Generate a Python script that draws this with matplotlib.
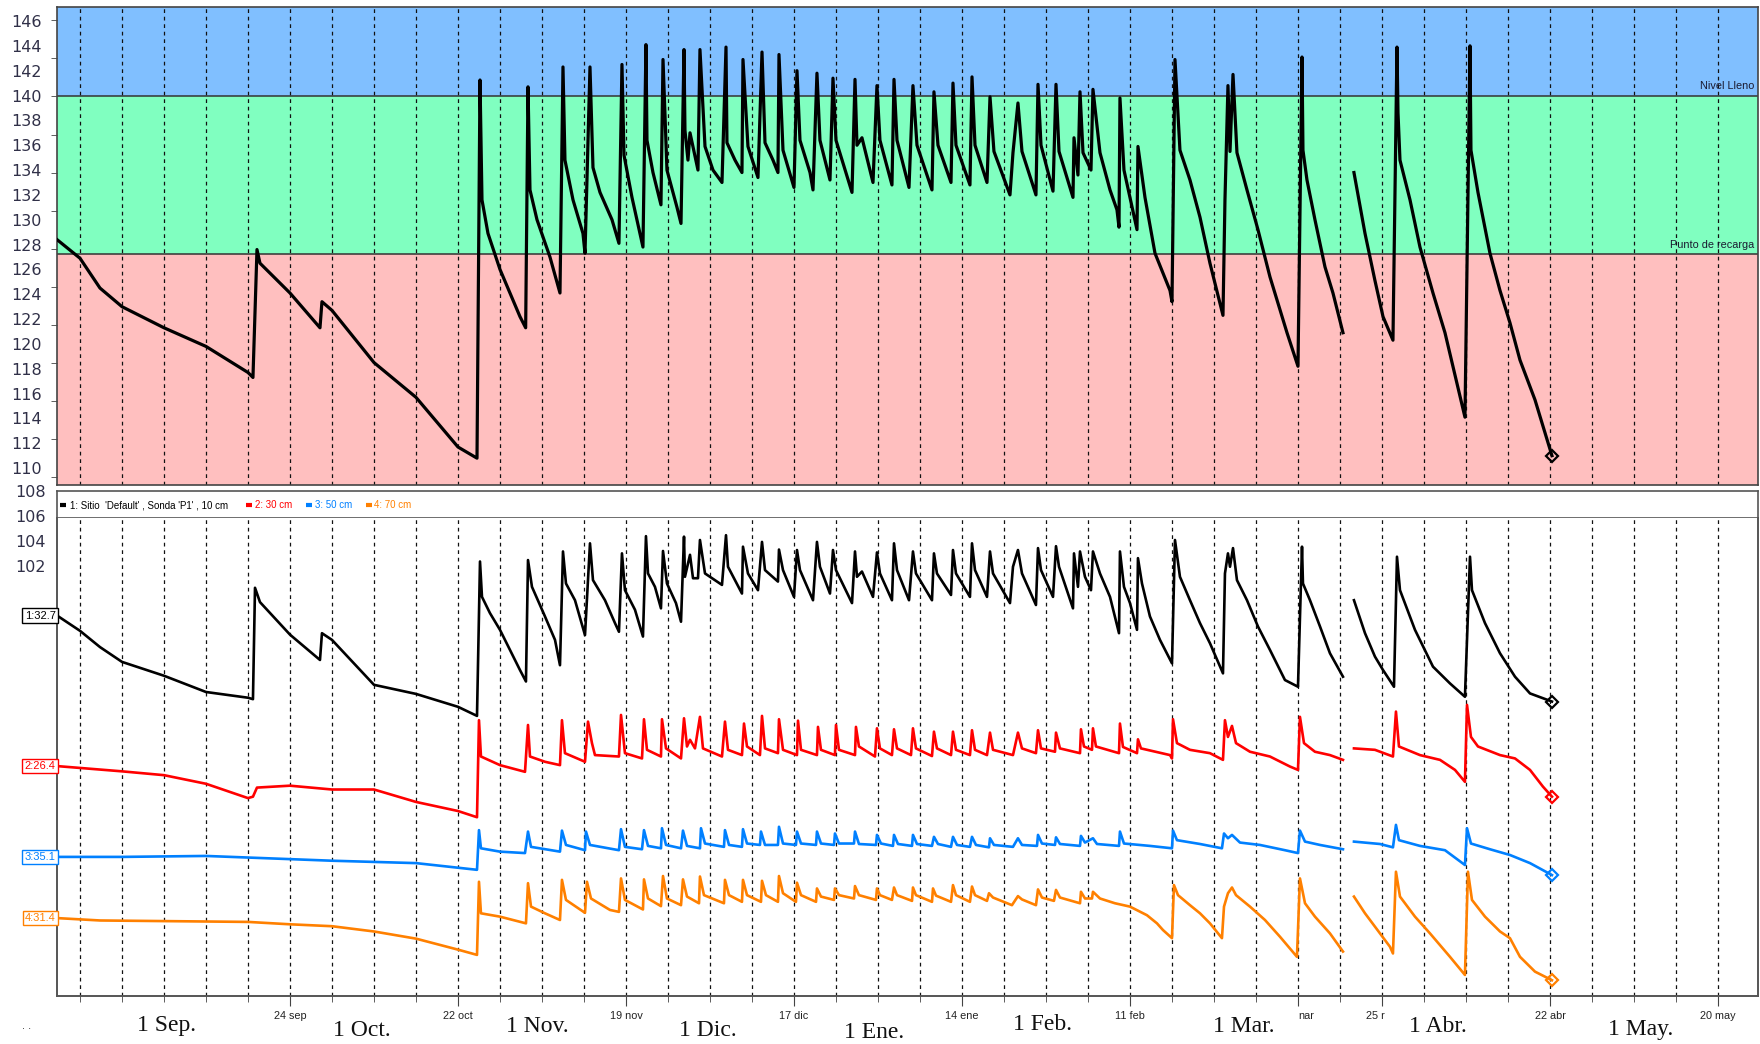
import numpy as np
import matplotlib
matplotlib.use("Agg")
import matplotlib.pyplot as plt
from matplotlib.transforms import blended_transform_factory as btf

nan = np.nan
# x values: days counted from 1 August; upper values on the edited scale of the picture
up_t = [15.17, 19.0, 22.33, 26.0, 33.0, 40.0, 47.0, 47.83, 48.5, 49.0, 54.0, 59.0, 59.33, 61.0, 68.0, 75.0, 82.0, 85.17,
        85.67, 86.0, 87.0, 89.0, 92.33, 93.28, 93.67, 94.0, 95.17, 97.33, 99.0, 99.5, 99.83, 101.17, 102.83, 103.17,
        104.0, 104.5, 105.67, 107.67, 108.83, 109.33, 109.67, 111.0, 112.83, 113.33, 113.5, 114.5, 115.83, 116.17,
        116.83, 118.5, 119.17, 119.67, 119.83, 120.33, 120.67, 122.0, 122.33, 123.17, 124.5, 126.0, 126.67, 126.83,
        128.17, 129.33, 129.5, 130.33, 132.0, 132.67, 133.17, 134.5, 135.33, 135.5, 136.17, 138.0, 138.5, 139.0,
        140.67, 141.17, 141.83, 142.33, 144.0, 144.5, 145.0, 147.67, 148.17, 148.5, 149.33, 151.17, 151.83, 152.33,
        154.33, 154.67, 155.17, 157.17, 157.83, 158.5, 161.0, 161.33, 162.0, 164.17, 164.5, 165.0, 167.33, 167.67,
        168.17, 170.17, 170.67, 171.33, 174.0, 174.5, 175.33, 176.0, 178.33, 178.67, 179.17, 181.17, 181.67, 182.17,
        184.5, 184.67, 185.33, 185.67, 186.17, 187.5, 187.83, 189.0, 190.67, 191.83, 192.17, 192.33, 193.0, 195.17,
        195.33, 196.5, 198.17, 200.67, 201.0, 201.5, 202.33, 204.0, 205.67, 207.33, 209.5, 209.83, 210.33, 210.67,
        211.17, 211.83, 213.5, 215.33, 217.33, 220.17, 222.0, 222.67, 222.83, 223.5, 224.83, 226.5, 227.83, 229.5,
        nan, 231.33, 233.17, 234.83, 236.17, 237.83, 238.5, 238.67, 239.0, 240.67, 242.33, 244.5, 246.5, 249.83,
        250.67, 250.83, 252.0, 254.0, 255.67, 257.33, 259.0, 261.5, 264.33]
up_v = [128.4, 126.9, 124.5, 123.0, 121.3, 119.8, 117.7, 117.3, 127.6, 126.5, 124.1, 121.3, 123.4, 122.7, 118.5, 115.7, 111.7, 110.8,
        141.25, 131.6, 128.9, 126.0, 122.2, 121.3, 140.7, 132.4, 130.0, 127.0, 124.1, 142.3, 134.8, 131.6, 128.9, 127.3,
        142.3, 134.2, 132.2, 130.0, 128.1, 142.5, 135.2, 131.8, 127.8, 144.1, 136.4, 133.8, 131.2, 142.9,
        134.0, 131.0, 129.7, 143.7, 137.2, 134.8, 137.0, 134.0, 143.7, 135.9, 134.0, 133.0, 143.9, 136.2,
        134.8, 133.8, 142.9, 135.9, 133.4, 143.5, 136.2, 134.8, 133.8, 143.3, 135.6, 132.6, 142.0, 136.4,
        133.8, 132.4, 141.8, 136.4, 133.2, 141.4, 136.4, 132.2, 141.3, 136.0, 136.6, 133.0, 140.8, 136.4,
        132.8, 141.3, 136.4, 132.6, 140.8, 136.0, 132.4, 140.3, 136.0, 133.0, 141.0, 136.0, 132.8, 141.5,
        136.0, 133.0, 139.9, 135.5, 132.0, 135.4, 139.4, 135.5, 132.0, 140.9, 136.0, 132.3, 140.9, 135.5,
        131.8, 136.6, 133.6, 140.3, 135.4, 134.0, 140.5, 135.4, 132.4, 130.8, 129.4, 139.8, 134.0, 129.2,
        135.9, 131.8, 127.3, 124.3, 123.4, 142.9, 135.6, 133.2, 130.2, 126.5, 122.3, 131.6, 140.8, 135.5,
        141.7, 135.4, 132.4, 129.2, 125.4, 120.9, 118.2, 143.1, 135.6, 133.2, 130.0, 126.2, 124.1, 120.9,
        nan, 133.8, 128.9, 125.1, 122.2, 120.3, 143.9, 138.6, 134.8, 131.6, 127.8, 124.1, 120.9, 114.1,
        144.0, 135.6, 132.2, 127.3, 124.3, 121.7, 118.7, 115.5, 111.0]

# lower panel: four probes (relative vertical position, 0-100 of the strip)
p1_t = [15.17, 19.0, 22.33, 26.0, 33.0, 40.0, 47.0, 47.83, 48.17, 49.0, 54.0, 59.0, 59.33, 61.0, 68.0, 75.0, 82.0, 85.17,
        85.67, 86.0, 87.33, 89.0, 92.33, 93.33, 93.67, 94.33, 96.5, 98.17, 99.0, 99.5, 100.0, 101.5, 103.17, 104.0,
        104.5, 106.5, 108.17, 108.83, 109.33, 109.83, 111.5, 112.83, 113.33, 113.67, 114.83, 115.83, 116.17, 116.83,
        118.33, 119.17, 119.67, 119.83, 120.67, 121.17, 122.0, 122.33, 123.17, 124.83, 126.0, 126.67, 127.0, 129.33,
        129.5, 130.33, 132.0, 132.67, 133.17, 135.33, 135.5, 136.17, 138.0, 138.5, 139.0, 141.17, 141.83, 142.33,
        144.0, 144.5, 145.0, 147.67, 148.17, 148.5, 149.33, 151.17, 151.83, 152.33, 154.33, 154.67, 155.17, 157.17,
        157.83, 158.33, 161.0, 161.33, 161.83, 164.17, 164.5, 165.0, 167.33, 167.67, 168.17, 170.17, 170.67, 171.17,
        174.0, 174.5, 175.33, 176.0, 178.33, 178.67, 179.17, 181.17, 181.67, 182.17, 184.5, 184.67, 185.33, 185.67,
        186.5, 187.5, 187.83, 189.0, 190.67, 192.17, 192.33, 193.0, 194.0, 195.17, 195.33, 196.0, 197.33, 199.0,
        201.0, 201.5, 202.33, 204.0, 205.67, 207.33, 209.5, 209.83, 210.33, 210.67, 211.17, 211.83, 213.5, 215.33,
        217.33, 219.83, 222.0, 222.67, 222.83, 224.0, 225.67, 227.33, 229.5, nan, 231.33, 233.17, 234.83, 236.17,
        238.0, 238.5, 239.0, 241.5, 244.5, 247.33, 249.83, 250.67, 251.0, 253.17, 255.67, 258.17, 260.67, 264.33]
p1_v = [79.6, 76.4, 73.0, 69.9, 67.0, 63.6, 62.4, 62.1, 85.4, 82.4, 75.6, 70.3, 75.9, 74.5, 65.1, 63.2, 60.5, 58.6,
        90.9, 83.5, 80.1, 76.6, 68.2, 65.8, 91.2, 85.6, 79.4, 74.5, 69.2, 93.0, 86.3, 82.8, 75.5, 94.7,
        87.0, 82.8, 78.0, 76.2, 92.6, 84.9, 80.8, 75.2, 96.2, 88.4, 85.6, 81.1, 93.1, 86.3,
        82.2, 78.3, 96.1, 87.7, 92.3, 87.4, 87.4, 95.4, 88.4, 87.0, 86.0, 96.4, 89.8, 84.2,
        94.0, 88.4, 84.9, 95.0, 89.1, 86.7, 93.4, 89.1, 83.5, 93.3, 89.1, 82.8, 95.0, 89.8,
        84.2, 93.3, 89.1, 82.2, 93.0, 87.7, 88.8, 83.5, 92.8, 88.4, 82.8, 94.7, 89.1, 82.8,
        93.0, 88.4, 82.8, 92.6, 88.4, 83.9, 93.3, 88.4, 83.5, 94.7, 89.1, 83.5, 93.0, 88.4,
        82.2, 89.8, 93.3, 88.4, 81.8, 93.7, 89.1, 83.5, 94.1, 89.8, 81.1, 92.6, 85.6, 93.0,
        87.7, 84.9, 93.0, 88.4, 83.5, 75.9, 93.0, 85.6, 82.2, 76.6, 91.6, 86.3, 79.4, 74.5,
        69.6, 95.4, 87.7, 82.8, 78.0, 73.8, 67.5, 88.4, 92.6, 89.8, 93.7, 87.0, 82.8, 77.3,
        72.4, 66.1, 64.7, 94.0, 86.3, 82.8, 77.3, 71.7, 66.8, nan, 82.8, 75.9, 71.0, 68.2,
        64.7, 91.9, 84.9, 76.6, 68.9, 65.4, 62.6, 91.9, 84.9, 78.0, 71.7, 66.8, 63.3, 61.6]

p2_t = [15.17, 26.0, 33.0, 40.0, 47.0, 47.83, 48.5, 54.0, 61.0, 68.0, 75.0, 82.0, 85.17,
        85.5, 85.83, 89.0, 93.17, 93.67, 94.0, 96.5, 99.0, 99.33, 99.83, 103.17, 103.67, 104.33, 104.83, 108.83,
        109.17, 109.83, 112.67, 113.0, 113.5, 115.83, 116.0, 116.67, 119.17, 119.67, 120.17, 120.67, 121.5, 122.33,
        122.83, 126.0, 126.5, 127.0, 129.33, 129.67, 130.17, 132.33, 132.67, 133.17, 135.33, 135.5, 136.17, 138.5,
        138.67, 139.17, 141.83, 142.0, 142.5, 144.83, 145.0, 145.5, 148.17, 148.33, 148.83, 151.5, 151.83, 152.33,
        154.33, 154.67, 155.17, 157.5, 157.83, 158.33, 161.0, 161.33, 161.83, 164.17, 164.5, 165.0, 167.33, 167.67,
        168.17, 170.17, 170.67, 171.17, 174.5, 175.33, 176.0, 178.33, 178.67, 179.17, 181.5, 181.67, 182.33, 185.67,
        185.83, 186.33, 187.67, 187.83, 188.33, 192.17, 192.33, 192.83, 195.17, 195.33, 195.83, 200.67, 201.0, 201.17,
        201.83, 204.0, 207.33, 209.5, 209.83, 210.33, 211.0, 211.67, 214.0, 217.33, 220.67, 222.0, 222.33, 223.0,
        224.83, 227.33, 229.5, nan, 231.33, 234.83, 237.83, 238.33, 238.83, 242.33, 245.67, 248.17, 249.83, 250.17,
        250.83, 252.0, 255.67, 258.17, 260.67, 262.83, 264.33]
p2_v = [48.1, 47.0, 46.2, 44.4, 41.4, 41.7, 43.6, 44.0, 43.2, 43.2, 40.6, 38.7, 37.4,
        57.7, 50.1, 48.3, 46.9, 56.7, 50.1, 49.0, 48.3, 57.7, 50.8, 49.0, 57.4, 52.9, 50.4, 50.1,
        58.8, 50.8, 49.7, 57.9, 51.5, 50.1, 57.9, 51.8, 49.7, 58.1, 52.2, 53.6, 51.8, 58.4,
        51.8, 50.1, 57.4, 51.5, 50.4, 57.0, 52.2, 50.4, 58.6, 51.8, 50.8, 57.9, 51.5, 50.4,
        57.6, 51.5, 50.4, 56.3, 51.5, 50.4, 56.7, 51.5, 50.4, 56.3, 52.2, 50.1, 56.0, 51.8,
        50.4, 55.8, 51.8, 50.4, 56.0, 51.8, 50.2, 55.3, 51.8, 50.4, 55.3, 51.5, 50.4, 55.6,
        51.5, 50.4, 55.1, 51.5, 50.4, 55.1, 51.8, 50.8, 55.6, 51.8, 51.1, 55.1, 51.8, 50.8,
        55.8, 52.2, 51.5, 56.0, 52.2, 50.8, 57.0, 52.1, 50.8, 53.7, 51.8, 50.4, 49.7, 57.9,
        52.9, 51.5, 50.8, 49.4, 57.7, 54.2, 56.5, 52.9, 51.1, 50.1, 48.0, 47.3, 58.4, 52.9,
        51.1, 50.4, 49.4, nan, 51.8, 51.5, 50.1, 59.5, 52.2, 50.4, 49.4, 47.3, 44.8, 60.9,
        54.2, 52.2, 50.4, 49.7, 47.3, 43.8, 41.7]

p3_t = [15.17, 26.0, 40.0, 61.0, 75.0, 85.17,
        85.5, 85.83, 89.0, 93.17, 93.67, 94.17, 99.0, 99.33, 100.0, 103.17, 103.33, 104.0, 108.83, 109.17, 109.83,
        112.67, 113.0, 113.67, 115.83, 116.0, 116.67, 119.17, 119.5, 120.17, 122.33, 122.5, 123.17, 126.33, 126.5,
        127.17, 129.33, 129.5, 130.17, 132.33, 132.5, 133.17, 135.33, 135.5, 136.17, 138.33, 138.5, 139.17, 141.67,
        141.83, 142.5, 144.67, 144.83, 145.5, 148.0, 148.17, 148.83, 151.67, 151.83, 152.5, 154.5, 154.67, 155.33,
        157.67, 157.83, 158.5, 161.0, 161.33, 162.0, 164.17, 164.5, 165.17, 167.33, 167.67, 168.33, 170.5, 170.67,
        171.33, 174.5, 175.33, 176.0, 178.5, 178.67, 179.33, 181.5, 181.67, 182.33, 185.67, 185.83, 186.5, 187.83,
        188.5, 192.17, 192.33, 193.0, 197.33, 201.0, 201.17, 201.83, 205.67, 209.33, 209.67, 210.33, 211.0, 212.33,
        215.67, 219.83, 222.0, 222.33, 223.17, 225.67, 229.5, nan, 231.33, 235.67, 237.83, 238.33, 238.83, 242.33,
        246.5, 249.83, 250.17, 250.83, 254.0, 257.33, 260.67, 264.33]
p3_v = [29.1, 29.1, 29.3, 28.3, 27.8, 26.4,
        34.7, 30.9, 30.2, 29.9, 34.4, 31.2, 30.2, 34.6, 31.6, 30.5, 34.4, 31.6, 30.5, 34.9, 31.2,
        30.7, 34.7, 31.4, 30.9, 35.1, 31.6, 30.9, 34.6, 31.4, 30.9, 35.1, 31.9, 31.2, 34.7,
        31.6, 31.2, 34.9, 31.9, 31.6, 34.4, 31.6, 31.6, 35.4, 31.9, 31.6, 34.4, 31.9, 31.6,
        34.4, 31.9, 31.6, 34.0, 31.9, 31.9, 34.4, 31.8, 31.6, 33.7, 31.9, 31.4, 33.7, 31.8,
        31.4, 33.7, 31.8, 31.4, 33.3, 31.8, 31.2, 33.3, 31.6, 31.2, 33.3, 31.6, 31.1, 33.0,
        31.6, 31.2, 33.0, 31.6, 31.4, 33.7, 31.9, 31.6, 33.2, 31.8, 31.4, 33.5, 32.1, 33.0,
        31.8, 31.4, 34.4, 31.9, 31.4, 30.9, 34.6, 32.6, 31.8, 30.9, 34.0, 33.0, 33.7, 32.1,
        31.6, 30.5, 29.9, 34.6, 32.3, 31.6, 30.7, nan, 32.3, 31.8, 31.1, 35.8, 32.6, 31.4,
        30.5, 27.4, 35.1, 31.9, 30.7, 29.5, 27.8, 25.3]

p4_t = [15.17, 22.33, 47.0, 54.0, 61.0, 68.0, 75.0, 82.0, 85.17,
        85.5, 85.83, 89.0, 93.33, 93.67, 94.17, 96.5, 99.0, 99.33, 100.0, 103.17, 103.5, 104.17, 107.33, 108.83,
        109.17, 109.83, 112.83, 113.0, 113.67, 115.83, 116.17, 116.83, 119.17, 119.5, 120.17, 122.17, 122.33, 123.0,
        126.33, 126.5, 127.17, 129.33, 129.5, 130.17, 132.5, 132.67, 133.33, 135.33, 135.5, 136.17, 138.33, 138.5,
        139.17, 141.67, 141.83, 142.5, 144.67, 144.83, 145.5, 148.0, 148.17, 148.83, 151.67, 151.83, 152.33, 154.33,
        154.67, 155.17, 157.67, 157.83, 158.33, 161.0, 161.17, 161.67, 164.17, 164.5, 165.0, 167.33, 167.67, 168.17,
        170.17, 170.5, 171.17, 174.33, 175.33, 176.0, 178.33, 178.67, 179.33, 181.33, 181.67, 182.33, 185.67, 185.83,
        186.5, 187.67, 187.83, 189.0, 191.5, 194.0, 196.83, 198.5, 199.5, 201.0, 201.33, 202.0, 204.0, 205.67,
        207.33, 209.33, 209.67, 210.33, 211.0, 211.67, 214.0, 216.5, 219.0, 221.83, 222.33, 223.17, 224.83, 227.33,
        229.5, nan, 231.33, 233.17, 235.67, 237.33, 237.83, 238.33, 239.0, 241.5, 244.0, 247.33, 249.83, 250.33,
        251.0, 253.17, 255.67, 257.33, 259.0, 261.5, 264.33]
p4_v = [16.3, 15.8, 15.5, 15.0, 14.6, 13.5, 12.0, 9.7, 8.6,
        23.9, 17.3, 16.6, 15.2, 23.6, 18.7, 17.3, 15.9, 24.3, 20.1, 17.4, 23.9, 20.4, 18.0, 17.6,
        24.6, 20.1, 18.1, 24.4, 20.4, 18.8, 25.1, 20.4, 19.0, 24.4, 20.8, 19.4, 25.0, 21.1,
        19.4, 24.3, 21.1, 19.7, 24.3, 21.1, 19.7, 24.1, 21.1, 19.7, 25.1, 21.5, 19.7, 23.7,
        21.1, 19.7, 22.5, 20.8, 20.1, 22.5, 21.1, 20.4, 23.0, 21.1, 20.1, 22.5, 21.1, 20.1,
        22.7, 21.1, 19.9, 22.7, 21.1, 19.7, 22.5, 21.0, 19.7, 23.2, 21.1, 19.7, 22.9, 21.1,
        19.9, 21.5, 20.6, 19.0, 20.9, 20.2, 19.0, 22.3, 20.6, 19.9, 22.2, 20.6, 19.4, 21.8,
        20.4, 20.4, 21.8, 20.4, 19.4, 18.7, 16.9, 15.2, 13.8, 12.1, 23.2, 21.1, 19.0, 17.3,
        15.2, 12.1, 18.7, 21.5, 22.7, 21.1, 18.7, 15.9, 12.4, 8.2, 24.6, 19.4, 16.6, 13.1,
        9.3, nan, 20.8, 17.3, 13.1, 10.3, 8.9, 26.0, 20.8, 16.6, 13.1, 8.2, 4.4, 26.0,
        20.1, 16.6, 13.5, 12.1, 8.2, 5.1, 3.3]

nivel_lleno = 140.0
punto_recarga = 127.24
y_labels = list(range(110, 147, 2))
y_labels_extra = [108, 106, 104, 102]
y_marks = [146.08, 143.02, 139.96, 136.82, 133.76, 130.70, 127.64, 124.58, 121.52, 118.46, 115.40, 112.34, 109.29]
weeks = list(range(19, 293, 7))
date_ticks = [54, 82, 110, 138, 166, 194, 222, 236, 264, 292]
date_labels = ["24 sep", "22 oct", "19 nov", "17 dic", "14 ene", "11 feb", "", "", "22 abr", "20 may"]
cut_labels = [(222, "nar", 0.0), (236, "25 r", -2.67)]
month_names = ["1 Sep.", "1 Oct.", "1 Nov.", "1 Dic.", "1 Ene.", "1 Feb.", "1 Mar.", "1 Abr.", "1 May."]
month_pos = [(166, 1026), (362, 1030), (537, 1026), (708, 1030), (874, 1033), (1042, 1025), (1244, 1026), (1438, 1027), (1641, 1029)]
legend_names = ["1: Sitio  'Default' , Sonda 'P1' , 10 cm", "2: 30 cm", "3: 50 cm", "4: 70 cm"]
start_labels = ["1:32.7", "2:26.4", "3:35.1", "4:31.4"]
colors = ["#000000", "#ff0000", "#0080ff", "#ff8000"]

W, H = 1760, 1044
fig = plt.figure(figsize=(W / 100, H / 100), dpi=100)
fig.patch.set_facecolor("white")


def box(l, t, r, b):
    return [l / W, 1 - b / H, (r - l) / W, (b - t) / H]


SANS = ["Liberation Sans", "DejaVu Sans"]
XMIN, XMAX = 15.17, 298.67

# ---------------- upper panel ----------------
ax1 = fig.add_axes(box(57, 7, 1758, 485))
ax1.set_xlim(XMIN, XMAX)
ax1.set_ylim(108.64, 147.13)
ax1.axhspan(nivel_lleno, 150, color="#80bfff", zorder=0, lw=0)
ax1.axhspan(punto_recarga, nivel_lleno, color="#80ffc0", zorder=0, lw=0)
ax1.axhspan(100, punto_recarga, color="#ffbfbf", zorder=0, lw=0)
for w in weeks:
    ax1.axvline(w, color="#111111", lw=0.9, ls=(0, (3, 3)), zorder=1)
ax1.axhline(nivel_lleno, color="#333333", lw=1.1, zorder=1.5)
ax1.axhline(punto_recarga, color="#333333", lw=1.1, zorder=1.5)
ax1.plot(up_t, up_v, color="black", lw=2.3, zorder=3)
ax1.plot(up_t[-1], up_v[-1], marker="D", ms=6.5, mfc="none", mec="black", mew=1.6, zorder=4)
tr = btf(ax1.transAxes, ax1.transData)
ax1.text(0.998, nivel_lleno + 0.35, "Nivel Lleno", transform=tr, ha="right", va="bottom",
         fontsize=7.8, family=SANS, color="#1a1a30")
ax1.text(0.998, punto_recarga + 0.35, "Punto de recarga", transform=tr, ha="right", va="bottom",
         fontsize=7.8, family=SANS, color="#1a1a30")
ax1.set_xticks([])
ax1.set_yticks(y_labels)
ax1.set_yticklabels([str(v) for v in y_labels])
ax1.set_yticks(y_marks, minor=True)
ax1.tick_params(axis="y", which="major", length=0, pad=11, labelsize=11.5, labelcolor="#303048")
ax1.tick_params(axis="y", which="minor", length=4, direction="out", color="#444444")
for v in y_labels_extra:
    ax1.text(-11 / 1701, v, str(v), transform=tr, ha="right", va="center", fontsize=11.5,
             color="#303048", clip_on=False)
for s in ax1.spines.values():
    s.set_color("#444444")
    s.set_linewidth(1.2)

# ---------------- legend strip ----------------
lg = fig.add_axes(box(57, 491, 1758, 518))
lg.set_xlim(57, 1758)
lg.set_ylim(0, 1)
lg.set_xticks([])
lg.set_yticks([])
for s in lg.spines.values():
    s.set_color("#555555")
    s.set_linewidth(1.2)
legend_x = [(60, 70), (246, 255), (306, 315), (366, 374)]
for (dx, tx), name, c in zip(legend_x, legend_names, colors):
    lg.plot([dx, dx + 6], [0.5, 0.5], color=c, lw=3, solid_capstyle="butt")
    lg.text(tx, 0.47, name, color=c, fontsize=7.0, family=SANS, va="center", ha="left")

# ---------------- lower panel ----------------
ax2 = fig.add_axes(box(57, 518, 1758, 996))
ax2.set_xlim(XMIN, XMAX)
ax2.set_ylim(0, 100)
for w in weeks:
    ax2.axvline(w, color="#111111", lw=0.9, ls=(0, (3, 3)), zorder=1)
series = [(p1_t, p1_v), (p2_t, p2_v), (p3_t, p3_v), (p4_t, p4_v)]
trl = btf(fig.transFigure, ax2.transData)
for (t, v), c, lab in zip(series, colors, start_labels):
    ax2.plot(t, v, color=c, lw=1.9, zorder=3)
    ax2.plot(t[-1], v[-1], marker="D", ms=6.5, mfc="none", mec=c, mew=1.6, zorder=4)
    fig.text(55.5 / W, v[0], lab, transform=trl, ha="right", va="center", fontsize=8.0,
             family=SANS, color=c,
             bbox=dict(boxstyle="square,pad=0.2", fc="white", ec=c, lw=1.0))
ax2.set_yticks([])
ax2.set_xticks(date_ticks)
ax2.set_xticklabels(date_labels)
ax2.set_xticks(weeks, minor=True)
ax2.tick_params(axis="x", which="major", length=7, pad=4, labelsize=7.8, labelcolor="#222222",
                color="#444444", direction="out")
ax2.tick_params(axis="x", which="minor", length=4, color="#444444", direction="out")
for lab in ax2.get_xticklabels():
    lab.set_family(SANS)
for s in ax2.spines.values():
    s.set_color("#555555")
    s.set_linewidth(1.4)
ax2.spines["top"].set_visible(False)
for tx, txt, shift in cut_labels:
    ax2.text(tx + shift, -3.2, txt, ha="left", va="top", fontsize=7.8, family=SANS,
             color="#222222", clip_on=False)

for name, (px, py) in zip(month_names, month_pos):
    fig.text(px / W, 1 - py / H, name, ha="center", va="center", fontsize=17,
             family=["Liberation Serif", "DejaVu Serif"], color="#111111")
fig.text(27 / W, 1 - 1026 / H, ". .", ha="center", va="center", fontsize=7, color="#333333")

fig.savefig("out.png", dpi=100, facecolor="white")
